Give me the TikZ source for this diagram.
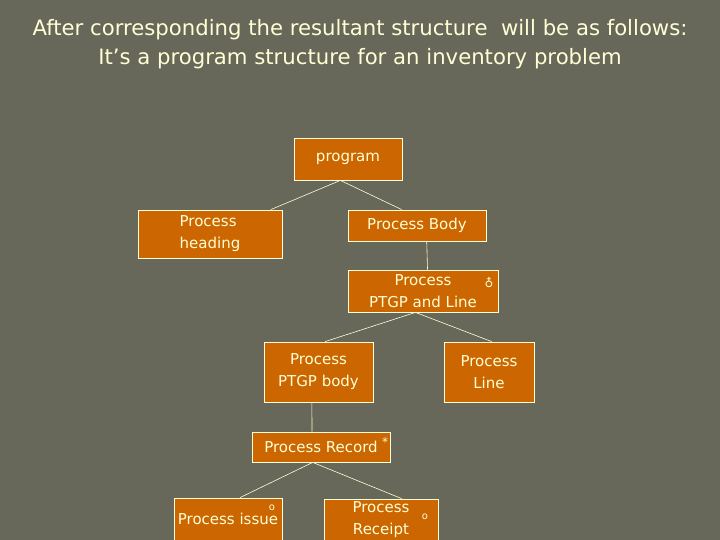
\documentclass[tikz,border=0pt]{standalone}
\usepackage{fontspec}
\setmainfont{DejaVu Sans}
\usetikzlibrary{calc}

\definecolor{slidebg}{RGB}{103,103,90}
\definecolor{boxfill}{RGB}{204,102,0}
\definecolor{cream}{RGB}{255,255,214}

\tikzset{
  proc/.style={draw=cream, line width=0.8pt, fill=boxfill, text=cream,
    font=\fontsize{15}{22}\selectfont, align=center, inner sep=0pt},
  link/.style={draw=cream, line width=0.6pt},
  selmark/.style={text=cream, inner sep=0pt}
}

\begin{document}
\begin{tikzpicture}[x=1pt, y=-1pt]
    \fill[slidebg] (0,0) rectangle (720,540);
    \useasboundingbox (0,0) rectangle (720,540);
    \clip (0,0) rectangle (720,540);

    \node[text=cream, font=\fontsize{21.2}{29}\selectfont, align=center] (title) at (360,44)
        {After corresponding the resultant structure\ \ will be as follows:\\It’s a program structure for an inventory problem};

    \node[proc, minimum width=108pt, minimum height=42pt] (prog) at (348,159) {program};
    \node[proc, minimum width=144pt, minimum height=48pt, align=left] (head) at (210,234) {Process\\heading};
    \node[proc, minimum width=138pt, minimum height=31pt] (body) at (417,225.5) {Process Body};
    \node[proc, minimum width=150pt, minimum height=42pt] (pgl) at (423,291) {Process\\PTGP and Line};
    \node[proc, minimum width=109pt, minimum height=60pt] (pgb) at (318.5,372) {Process\\PTGP body};
    \node[proc, minimum width=90pt, minimum height=60pt] (pline) at (489,372) {Process\\Line};
    \node[proc, minimum width=138pt, minimum height=30pt] (rec) at (321,447) {Process Record};
    \node[proc, minimum width=108pt, minimum height=42pt] (issue) at (228,519) {Process issue};
    \node[proc, minimum width=114pt, minimum height=42pt] (rcpt) at (381,520) {Process\\Receipt};

    % iteration / selection marks
    \node[selmark, font=\fontsize{12}{12}\selectfont] (pglm) at (489,283) {♁};
    \node[selmark, font=\fontsize{12}{12}\selectfont] (recm) at (385,442) {*};
    \node[selmark, font=\fontsize{10}{10}\selectfont] (issuem) at (272,508) {o};
    \node[selmark, font=\fontsize{10}{10}\selectfont] (rcptm) at (425,517) {o};

    \draw[link] ($(prog.south west)!0.43!(prog.south east)$) -- ($(head.north west)!0.92!(head.north east)$);
    \draw[link] ($(prog.south west)!0.43!(prog.south east)$) -- ($(body.north west)!0.39!(body.north east)$);
    \draw[link] ($(body.south west)!0.57!(body.south east)$) -- ($(pgl.north west)!0.53!(pgl.north east)$);
    \draw[link] ($(pgl.south west)!0.45!(pgl.south east)$) -- ($(pgb.north west)!0.56!(pgb.north east)$);
    \draw[link] ($(pgl.south west)!0.45!(pgl.south east)$) -- ($(pline.north west)!0.53!(pline.north east)$);
    \draw[link] ($(pgb.south west)!0.44!(pgb.south east)$) -- ($(rec.north west)!0.435!(rec.north east)$);
    \draw[link] ($(rec.south west)!0.44!(rec.south east)$) -- ($(issue.north west)!0.61!(issue.north east)$);
    \draw[link] ($(rec.south west)!0.44!(rec.south east)$) -- ($(rcpt.north west)!0.68!(rcpt.north east)$);
\end{tikzpicture}
\end{document}
